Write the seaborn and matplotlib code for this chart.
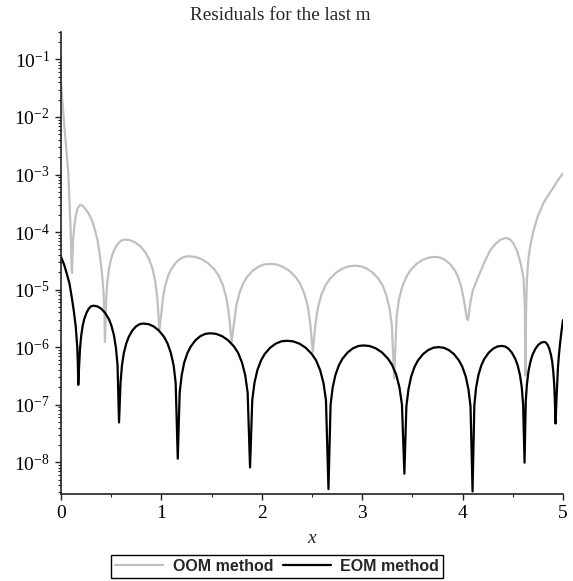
import matplotlib
matplotlib.use("Agg")
import matplotlib.pyplot as plt
import matplotlib.ticker as mticker
import seaborn as sns
import pandas as pd

# OOM method residual (gray curve)
oom_x = [0.000, 0.023, 0.073, 0.097, 0.107, 0.110,
         0.114, 0.122, 0.133, 0.146, 0.166, 0.190, 0.210, 0.230, 0.272, 0.310, 0.339, 0.365, 0.389, 0.410, 0.422, 0.432, 0.438,
         0.450, 0.462, 0.478, 0.498, 0.518, 0.548, 0.578, 0.608, 0.638, 0.689, 0.741, 0.792, 0.843, 0.877, 0.912, 0.939, 0.960, 0.980,
         0.997, 1.015, 1.038, 1.067, 1.096, 1.140, 1.183, 1.227, 1.270, 1.335, 1.399, 1.464, 1.528, 1.571, 1.614, 1.648, 1.674, 1.700,
         1.723, 1.746, 1.776, 1.814, 1.852, 1.909, 1.966, 2.023, 2.080, 2.144, 2.208, 2.273, 2.337, 2.380, 2.422, 2.457, 2.482, 2.508,
         2.533, 2.559, 2.592, 2.635, 2.677, 2.740, 2.803, 2.867, 2.930, 2.988, 3.046, 3.105, 3.163, 3.202, 3.240, 3.271, 3.295, 3.318,
         3.343, 3.367, 3.400, 3.441, 3.482, 3.543, 3.604, 3.666, 3.727, 3.775, 3.824, 3.872, 3.921, 3.953, 3.985, 4.011, 4.031, 4.042, 4.050,
         4.060, 4.076, 4.100, 4.142, 4.180, 4.225, 4.275, 4.330, 4.380, 4.430, 4.470, 4.500, 4.541, 4.580, 4.607, 4.620, 4.626,
         4.632, 4.640, 4.650, 4.660, 4.680, 4.707, 4.750, 4.806, 4.850, 4.906, 4.950, 5.000]
oom_y = [4.2e-2, 1.15e-2, 1.05e-3, 9.5e-5, 2.2e-5, 1.95e-5,
         3.5e-5, 7.9e-5, 1.26e-4, 1.9e-4, 2.6e-4, 2.95e-4, 2.9e-4, 2.7e-4, 2.14e-4, 1.58e-4, 1.07e-4, 7.1e-5, 3.7e-5, 1.78e-5, 9.8e-6, 4.0e-6, 1.23e-6,
         6.9e-6, 1.38e-5, 2.29e-5, 3.38e-5, 4.36e-5, 5.62e-5, 6.59e-5, 7.23e-5, 7.4e-5, 7.23e-5, 6.59e-5, 5.62e-5, 4.36e-5, 3.38e-5, 2.29e-5, 1.38e-5, 6.9e-6, 2.0e-6,
         3.55e-6, 7.07e-6, 1.17e-5, 1.74e-5, 2.24e-5, 2.88e-5, 3.39e-5, 3.71e-5, 3.8e-5, 3.71e-5, 3.39e-5, 2.88e-5, 2.24e-5, 1.74e-5, 1.17e-5, 7.07e-6, 3.55e-6, 1.23e-6,
         2.61e-6, 5.21e-6, 8.65e-6, 1.28e-5, 1.65e-5, 2.13e-5, 2.49e-5, 2.74e-5, 2.8e-5, 2.74e-5, 2.49e-5, 2.13e-5, 1.65e-5, 1.28e-5, 8.65e-6, 5.21e-6, 2.61e-6, 8.3e-7,
         2.43e-6, 4.84e-6, 8.03e-6, 1.19e-5, 1.53e-5, 1.97e-5, 2.32e-5, 2.54e-5, 2.6e-5, 2.54e-5, 2.32e-5, 1.97e-5, 1.53e-5, 1.19e-5, 8.03e-6, 4.84e-6, 2.43e-6, 2.9e-7,
         3.45e-6, 6.88e-6, 1.14e-5, 1.69e-5, 2.18e-5, 2.81e-5, 3.30e-5, 3.61e-5, 3.7e-5, 3.61e-5, 3.30e-5, 2.81e-5, 2.18e-5, 1.69e-5, 1.14e-5, 6.9e-6, 4.2e-6, 3.2e-6, 2.95e-6,
         3.4e-6, 5.75e-6, 9.5e-6, 1.45e-5, 2.1e-5, 3.2e-5, 4.8e-5, 6.3e-5, 7.4e-5, 7.9e-5, 7.5e-5, 6.6e-5, 4.8e-5, 2.8e-5, 1.58e-5, 5.0e-6, 3.2e-7,
         4.0e-6, 1.41e-5, 2.6e-5, 4.0e-5, 6.5e-5, 1.07e-4, 1.9e-4, 3.2e-4, 4.3e-4, 6.0e-4, 8.0e-4, 1.05e-3]

# EOM method residual (black curve)
eom_x = [0.000, 0.030, 0.057, 0.085, 0.107, 0.128, 0.147, 0.162, 0.168, 0.172,
         0.181, 0.190, 0.202, 0.217, 0.232, 0.255, 0.277, 0.300, 0.322, 0.360, 0.399, 0.437, 0.476, 0.501, 0.527, 0.547, 0.563, 0.578,
         0.593, 0.607, 0.626, 0.651, 0.675, 0.711, 0.747, 0.784, 0.820, 0.871, 0.923, 0.974, 1.026, 1.060, 1.094, 1.122, 1.142, 1.163,
         1.182, 1.202, 1.227, 1.260, 1.292, 1.340, 1.388, 1.437, 1.485, 1.545, 1.604, 1.664, 1.724, 1.764, 1.803, 1.835, 1.859, 1.883,
         1.905, 1.927, 1.956, 1.993, 2.029, 2.084, 2.139, 2.194, 2.249, 2.311, 2.374, 2.436, 2.498, 2.540, 2.581, 2.614, 2.639, 2.664,
         2.685, 2.706, 2.734, 2.769, 2.804, 2.856, 2.908, 2.961, 3.013, 3.074, 3.135, 3.196, 3.257, 3.298, 3.339, 3.371, 3.396, 3.420,
         3.440, 3.461, 3.488, 3.522, 3.556, 3.607, 3.658, 3.709, 3.760, 3.811, 3.862, 3.913, 3.963, 3.997, 4.031, 4.058, 4.079, 4.099,
         4.117, 4.134, 4.157, 4.186, 4.215, 4.259, 4.303, 4.346, 4.390, 4.424, 4.458, 4.492, 4.526, 4.549, 4.572, 4.590, 4.603, 4.617,
         4.629, 4.641, 4.656, 4.676, 4.695, 4.725, 4.754, 4.784, 4.813, 4.830, 4.847, 4.864, 4.881, 4.892, 4.903, 4.912, 4.919, 4.926,
         4.935, 4.950, 4.960, 4.970, 4.985, 5.000]
eom_y = [3.7e-5, 2.75e-5, 1.9e-5, 1.26e-5, 7.4e-6, 4.2e-6, 2.24e-6, 1.0e-6, 5.0e-7, 2.2e-7,
         4.9e-7, 9.77e-7, 1.62e-6, 2.4e-6, 3.09e-6, 3.98e-6, 4.68e-6, 5.13e-6, 5.25e-6, 5.13e-6, 4.68e-6, 3.98e-6, 3.09e-6, 2.4e-6, 1.62e-6, 9.77e-7, 4.9e-7, 4.9e-8,
         2.4e-7, 4.78e-7, 7.94e-7, 1.17e-6, 1.51e-6, 1.95e-6, 2.29e-6, 2.51e-6, 2.57e-6, 2.51e-6, 2.29e-6, 1.95e-6, 1.51e-6, 1.17e-6, 7.94e-7, 4.78e-7, 2.4e-7, 1.15e-8,
         1.62e-7, 3.24e-7, 5.38e-7, 7.95e-7, 1.02e-6, 1.32e-6, 1.55e-6, 1.70e-6, 1.74e-6, 1.70e-6, 1.55e-6, 1.32e-6, 1.02e-6, 7.95e-7, 5.38e-7, 3.24e-7, 1.62e-7, 8.1e-9,
         1.2e-7, 2.4e-7, 3.99e-7, 5.9e-7, 7.6e-7, 9.79e-7, 1.15e-6, 1.26e-6, 1.29e-6, 1.26e-6, 1.15e-6, 9.79e-7, 7.6e-7, 5.9e-7, 3.99e-7, 2.4e-7, 1.2e-7, 3.4e-9,
         9.98e-8, 1.99e-7, 3.31e-7, 4.89e-7, 6.3e-7, 8.12e-7, 9.53e-7, 1.045e-6, 1.07e-6, 1.045e-6, 9.53e-7, 8.12e-7, 6.3e-7, 4.89e-7, 3.31e-7, 1.99e-7, 9.98e-8, 6.3e-9,
         9.33e-8, 1.86e-7, 3.09e-7, 4.57e-7, 5.89e-7, 7.59e-7, 8.91e-7, 9.77e-7, 1.0e-6, 9.77e-7, 8.91e-7, 7.59e-7, 5.89e-7, 4.57e-7, 3.09e-7, 1.86e-7, 9.33e-8, 3.1e-9,
         9.8e-8, 1.95e-7, 3.24e-7, 4.8e-7, 6.18e-7, 7.97e-7, 9.36e-7, 1.026e-6, 1.05e-6, 1.026e-6, 9.36e-7, 7.97e-7, 6.18e-7, 4.8e-7, 3.24e-7, 1.95e-7, 9.8e-8, 9.8e-9,
         1.15e-7, 2.29e-7, 3.8e-7, 5.62e-7, 7.24e-7, 9.34e-7, 1.096e-6, 1.2e-6, 1.23e-6, 1.2e-6, 1.096e-6, 9.34e-7, 7.24e-7, 5.62e-7, 3.8e-7, 2.29e-7, 1.15e-7, 4.7e-8,
         1.26e-7, 4.5e-7, 7.5e-7, 1.12e-6, 1.9e-6, 2.95e-6]

decades = [-1, -2, -3, -4, -5, -6, -7, -8]
x_ticks = [0, 1, 2, 3, 4, 5]

sns.set_style("white")
plt.rcParams['font.family'] = ['Liberation Serif', 'DejaVu Serif']
plt.rcParams['mathtext.fontset'] = 'custom'
plt.rcParams['mathtext.rm'] = 'Liberation Serif'
plt.rcParams['mathtext.it'] = 'Liberation Serif:italic'

oom = pd.DataFrame({'x': oom_x, 'y': oom_y})
eom = pd.DataFrame({'x': eom_x, 'y': eom_y})

fig = plt.figure(figsize=(5.73, 5.81), dpi=100)
ax = fig.add_axes([61 / 573, 87 / 581, 502 / 573, 462 / 581])

sns.lineplot(data=oom, x='x', y='y', ax=ax, color='#c0c0c0', linewidth=1.6,
             estimator=None, sort=False, label='OOM method', legend=False)
sns.lineplot(data=eom, x='x', y='y', ax=ax, color='black', linewidth=1.6,
             estimator=None, sort=False, label='EOM method', legend=False)

ax.set_yscale('log')
ax.set_xlim(0, 5)
ax.set_ylim(2.8e-9, 0.3)

ax.set_yticks([10.0 ** d for d in decades])
ax.set_yticklabels([f"$10^{{{d}}}$" for d in decades])
ax.yaxis.set_minor_locator(mticker.LogLocator(base=10, subs=range(2, 10), numticks=20))
ax.yaxis.set_minor_formatter(mticker.NullFormatter())
ax.set_xticks(x_ticks)
ax.set_xticklabels([str(t) for t in x_ticks])
ax.xaxis.set_minor_locator(mticker.MultipleLocator(0.5))

for s in ['top', 'right']:
    ax.spines[s].set_visible(False)
for s in ['left', 'bottom']:
    ax.spines[s].set_color('#222222')
    ax.spines[s].set_linewidth(1.2)

ax.tick_params(axis='both', which='major', direction='out', length=4, width=1,
               color='#222222', labelsize=14, labelcolor='black', pad=4)
ax.tick_params(axis='both', which='minor', direction='out', length=2.5, width=0.8,
               color='#222222')
ax.tick_params(axis='y', which='both', left=True)
ax.tick_params(axis='x', which='both', bottom=True)

ax.set_xlabel('$x$', fontsize=14, labelpad=6)
ax.set_ylabel('')
fig.text(0.489, 1 - 15 / 581, 'Residuals for the last m', fontsize=13.8,
         ha='center', va='center')

handles, labels = ax.get_legend_handles_labels()
leg = fig.legend(handles, labels, loc='center', bbox_to_anchor=(0.484, 0.0258), ncol=2,
                 frameon=True, fancybox=False, edgecolor='black', framealpha=1,
                 handlelength=3.0, handletextpad=0.6, columnspacing=0.6,
                 borderpad=0.25, prop={'family': 'Liberation Sans', 'weight': 'bold', 'size': 11.5})
leg.get_frame().set_linewidth(1.0)

fig.savefig('out.png', dpi=100)
